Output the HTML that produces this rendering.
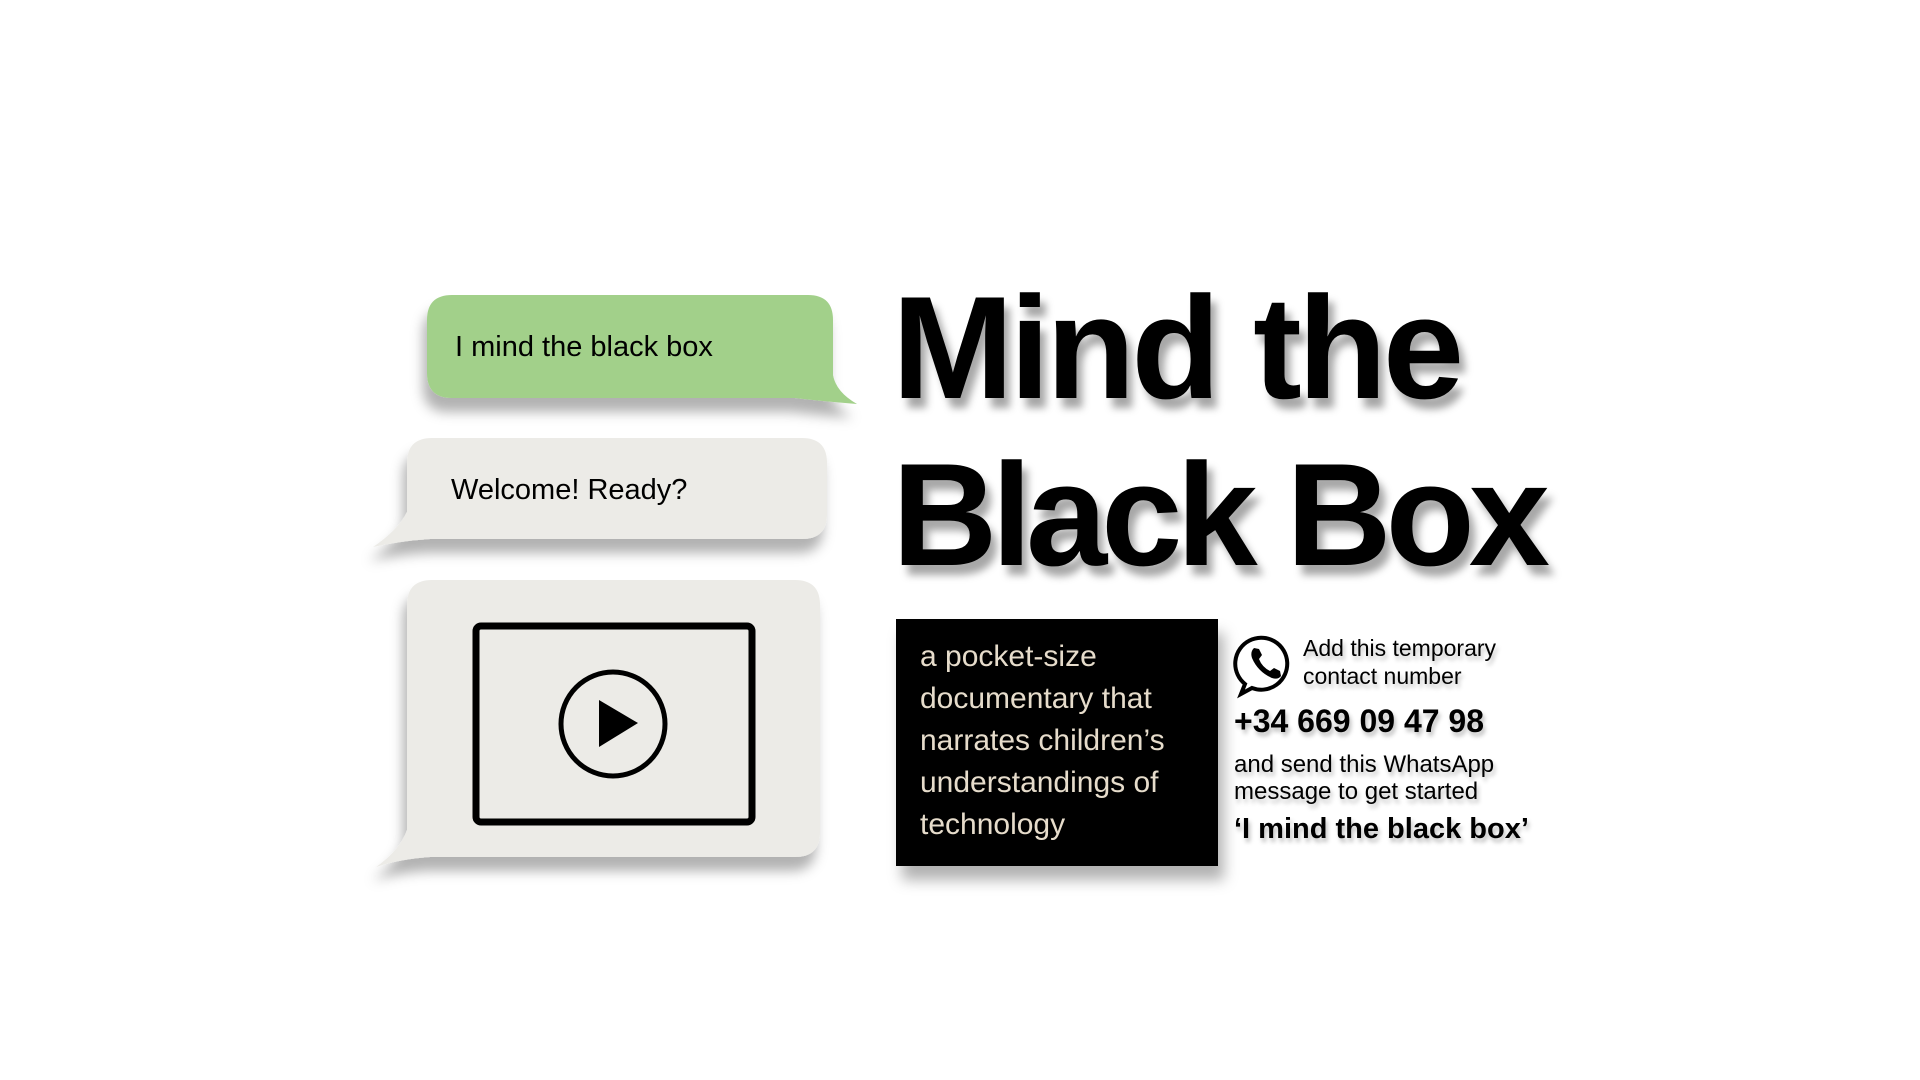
<!DOCTYPE html>
<html><head><meta charset="utf-8"><style>
html,body{margin:0;padding:0;background:#fff;width:1920px;height:1080px;overflow:hidden;position:relative;font-family:"Liberation Sans",sans-serif}
.t{position:absolute;white-space:nowrap;line-height:1}
.title{font-weight:bold;font-size:146px;color:#000;text-shadow:6px 10px 8px rgba(0,0,0,0.35)}
.sh{text-shadow:2px 4px 4px rgba(0,0,0,0.25)}
</style></head><body>
<svg width="1920" height="1080" style="position:absolute;left:0;top:0">
<defs><filter id="ds" x="-20%" y="-20%" width="140%" height="150%"><feDropShadow dx="-4" dy="14" stdDeviation="6" flood-color="#000" flood-opacity="0.3"/></filter>
<filter id="ds2" x="-20%" y="-20%" width="140%" height="150%"><feDropShadow dx="6" dy="14" stdDeviation="7" flood-color="#000" flood-opacity="0.3"/></filter></defs>
<path filter="url(#ds)" fill="#a2d08a" d="M452 295 H808 Q833 295 833 320 V375 Q836 392 857 404 Q820 401 795 398 H452 Q427 398 427 373 V320 Q427 295 452 295Z"/>
<path filter="url(#ds)" fill="#ecebe7" d="M432 438 H802 Q827 438 827 463 V514 Q827 539 802 539 H430 Q400 541 373 547 Q398 530 407 512 V463 Q407 438 432 438Z"/>
<path filter="url(#ds)" fill="#ecebe7" d="M432 580 H795 Q820 580 820 605 V832 Q820 857 795 857 H430 Q400 859 376 867 Q400 850 407 830 V605 Q407 580 432 580Z"/>
<rect x="476" y="626" width="276" height="196" rx="5" fill="none" stroke="#000" stroke-width="7"/>
<circle cx="613" cy="724" r="52" fill="none" stroke="#000" stroke-width="5"/>
<polygon points="599,700 638,723 599,747" fill="#000"/>
<rect filter="url(#ds2)" x="896" y="619" width="322" height="247" fill="#000"/>
<g fill="none" stroke="#000" stroke-width="4">
<path d="M1245 684 L1241 694 L1252 688 A26 26 0 1 0 1245 684Z"/>
</g>
<path d="M1254 648 Q1250 652 1252 658 Q1258 672 1272 678 Q1278 680 1281 676 L1280 671 L1274 668 L1270 671 Q1262 667 1259 659 L1262 655 L1259 649Z" fill="#000"/>
</svg>
<div class="t" style="left:455px;top:333px;font-size:29px">I mind the black box</div>
<div class="t" style="left:451px;top:476px;font-size:29px">Welcome! Ready?</div>
<div class="t title" style="left:892px;top:275px;letter-spacing:-4px">Mind the</div>
<div class="t title" style="left:892px;top:442px;letter-spacing:-6px">Black Box</div>
<div class="t" style="left:920px;top:636px;font-size:30px;line-height:42px;color:#e6dccb;white-space:normal;width:300px">a pocket-size documentary that narrates children’s understandings of technology</div>
<div class="t sh" style="left:1303px;top:634px;font-size:23px;line-height:28px">Add this temporary<br>contact number</div>
<div class="t sh" style="left:1234px;top:705px;font-size:32px;font-weight:bold">+34 669 09 47 98</div>
<div class="t sh" style="left:1234px;top:751px;font-size:24px;line-height:27px">and send this WhatsApp<br>message to get started</div>
<div class="t sh" style="left:1234px;top:815px;font-size:29px;font-weight:bold">‘I mind the black box’</div>
</body></html>
